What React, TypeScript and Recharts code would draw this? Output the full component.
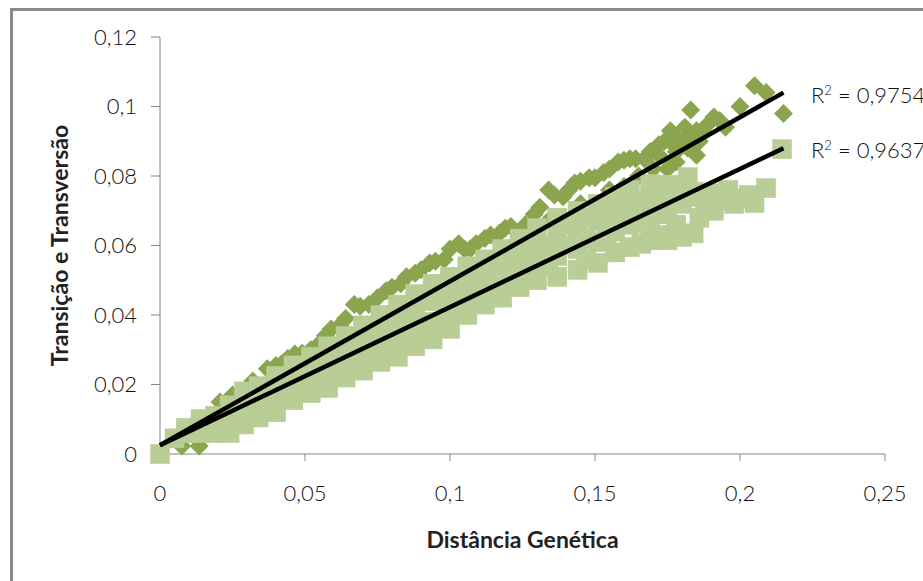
import { Label, Scatter, ScatterChart, XAxis, YAxis } from "recharts";

const xTicks = [0, 0.05, 0.1, 0.15, 0.2, 0.25];
const yTicks = [0, 0.02, 0.04, 0.06, 0.08, 0.1, 0.12];

// [distance, transition/transversion]
const darkPoints = [
  [0.0075, 0.0023], [0.0135, 0.0023], [0.012, 0.008], [0.0207, 0.015], [0.025, 0.017], [0.028, 0.018],
  [0.032, 0.021], [0.037, 0.0245], [0.04, 0.0255], [0.042, 0.026], [0.044, 0.0275], [0.0465, 0.0288],
  [0.049, 0.029], [0.052, 0.03], [0.054, 0.031], [0.057, 0.034], [0.059, 0.036], [0.062, 0.037],
  [0.064, 0.039], [0.067, 0.043], [0.069, 0.0425], [0.072, 0.043], [0.075, 0.045], [0.078, 0.047],
  [0.08, 0.048], [0.083, 0.049], [0.085, 0.051], [0.088, 0.052], [0.09, 0.053], [0.093, 0.055],
  [0.095, 0.0555], [0.098, 0.056], [0.1, 0.059], [0.103, 0.0605], [0.105, 0.059], [0.107, 0.059],
  [0.109, 0.0605], [0.112, 0.062], [0.114, 0.063], [0.117, 0.0635], [0.119, 0.065], [0.121, 0.0655],
  [0.124, 0.064], [0.126, 0.066], [0.129, 0.069], [0.131, 0.071], [0.134, 0.076], [0.136, 0.0745],
  [0.139, 0.074], [0.141, 0.076], [0.143, 0.078], [0.145, 0.0785], [0.148, 0.0795], [0.15, 0.0795],
  [0.153, 0.081], [0.155, 0.082], [0.158, 0.084], [0.16, 0.0845], [0.162, 0.085], [0.164, 0.085],
  [0.167, 0.085], [0.169, 0.087], [0.172, 0.089], [0.174, 0.09], [0.176, 0.093], [0.178, 0.091],
  [0.18, 0.09], [0.181, 0.094], [0.183, 0.099], [0.185, 0.093], [0.185, 0.086], [0.178, 0.084],
  [0.182, 0.088], [0.178, 0.087], [0.187, 0.093], [0.191, 0.097], [0.195, 0.094], [0.2, 0.1],
  [0.205, 0.106], [0.209, 0.104], [0.215, 0.098], [0.175, 0.082], [0.17, 0.082], [0.165, 0.08],
  [0.16, 0.077], [0.155, 0.076], [0.15, 0.072], [0.145, 0.072], [0.14, 0.067], [0.135, 0.068],
  [0.13, 0.062], [0.12, 0.058], [0.11, 0.054], [0.1, 0.05], [0.09, 0.046], [0.08, 0.041],
  [0.186, 0.09], [0.183, 0.092], [0.189, 0.095], [0.177, 0.089], [0.172, 0.086], [0.193, 0.096],
];

const lightPoints = [
  [0, 0], [0.005, 0.0045], [0.009, 0.006], [0.009, 0.0075],
  [0.014, 0.006], [0.014, 0.0085], [0.014, 0.01], [0.019, 0.006], [0.019, 0.0085],
  [0.019, 0.011], [0.024, 0.006], [0.024, 0.011], [0.024, 0.014], [0.029, 0.0085],
  [0.029, 0.012], [0.029, 0.016], [0.029, 0.018], [0.034, 0.0105], [0.034, 0.014],
  [0.034, 0.017], [0.034, 0.0195], [0.04, 0.012], [0.04, 0.016], [0.04, 0.02],
  [0.04, 0.0225], [0.046, 0.0155], [0.046, 0.019], [0.046, 0.022], [0.046, 0.0255],
  [0.052, 0.0175], [0.052, 0.021], [0.052, 0.025], [0.052, 0.028], [0.058, 0.019],
  [0.058, 0.023], [0.058, 0.027], [0.058, 0.031], [0.064, 0.022], [0.064, 0.026],
  [0.064, 0.03], [0.064, 0.034], [0.07, 0.024], [0.07, 0.028], [0.07, 0.033],
  [0.07, 0.037], [0.076, 0.0265], [0.076, 0.031], [0.076, 0.036], [0.076, 0.04],
  [0.082, 0.028], [0.082, 0.033], [0.082, 0.038], [0.082, 0.043], [0.088, 0.031],
  [0.088, 0.036], [0.088, 0.041], [0.088, 0.046], [0.094, 0.033], [0.094, 0.038],
  [0.094, 0.044], [0.094, 0.049], [0.1, 0.036], [0.1, 0.041], [0.1, 0.046],
  [0.1, 0.051], [0.106, 0.04], [0.106, 0.045], [0.106, 0.05], [0.106, 0.054],
  [0.112, 0.043], [0.112, 0.048], [0.112, 0.052], [0.112, 0.056], [0.118, 0.045],
  [0.118, 0.05], [0.118, 0.055], [0.118, 0.059], [0.124, 0.048], [0.124, 0.053],
  [0.124, 0.058], [0.124, 0.062], [0.13, 0.05], [0.13, 0.055], [0.13, 0.06],
  [0.13, 0.065], [0.137, 0.051], [0.137, 0.057], [0.137, 0.063], [0.137, 0.068],
  [0.144, 0.053], [0.144, 0.059], [0.144, 0.065], [0.144, 0.07], [0.151, 0.055],
  [0.151, 0.061], [0.151, 0.067], [0.151, 0.072], [0.157, 0.058], [0.157, 0.064],
  [0.157, 0.07], [0.157, 0.074], [0.162, 0.0595], [0.162, 0.066], [0.162, 0.071],
  [0.162, 0.076], [0.169, 0.0615], [0.169, 0.068], [0.169, 0.0777], [0.175, 0.0615],
  [0.175, 0.069], [0.172, 0.0775], [0.182, 0.0797], [0.18, 0.072], [0.184, 0.0635],
  [0.186, 0.074], [0.191, 0.07], [0.196, 0.076], [0.2, 0.0735], [0.205, 0.0722],
  [0.209, 0.0765], [0.2145, 0.0877], [0.165, 0.073], [0.17, 0.073], [0.175, 0.0735],
  [0.178, 0.0775], [0.184, 0.0755], [0.188, 0.0705], [0.19, 0.075], [0.193, 0.073],
  [0.198, 0.072], [0.203, 0.0745], [0.178, 0.066], [0.186, 0.068], [0.172, 0.063],
  [0.166, 0.0605], [0.18, 0.0625], [0.134, 0.06], [0.14, 0.06], [0.14, 0.066],
  [0.147, 0.062], [0.147, 0.068], [0.154, 0.063], [0.154, 0.069], [0.16, 0.068],
  [0.166, 0.067], [0.147, 0.056], [0.134, 0.054], [0.127, 0.056], [0.121, 0.052],
  [0.115, 0.05], [0.109, 0.047], [0.103, 0.044],
];

const trendDark = [
  [0, 0.0025],
  [0.215, 0.104],
];
const trendLight = [
  [0, 0.0025],
  [0.215, 0.088],
];

const toRows = (pts: number[][]) => pts.map(([x, y]) => ({ x, y }));
const comma = (v: number) => String(v).replace(".", ",");

const fontFamily = "Lato, 'Open Sans', sans-serif";
const axisColor = "#868686";
const tickStyle = { fontSize: 22, fontFamily, fill: "#111", fontWeight: 300 };
const titleStyle = { fontSize: 23, fontWeight: 700, fontFamily, fill: "#222" };

function Diamond({ cx, cy }: any) {
  const r = 9.5;
  return (
    <polygon
      points={`${cx},${cy - r} ${cx + r},${cy} ${cx},${cy + r} ${cx - r},${cy}`}
      fill="#8ba54f"
    />
  );
}

function Square({ cx, cy }: any) {
  const r = 9.5;
  return (
    <rect
      x={cx - r}
      y={cy - r}
      width={r * 2}
      height={r * 2}
      fill="#b9ce97"
      stroke="#b4ca91"
      strokeWidth={0.5}
    />
  );
}

const NoDot = () => <g />;

const rSquaredStyle = {
  position: "absolute" as const,
  left: 811,
  fontSize: 22,
  fontFamily,
  fontWeight: 300,
  color: "#111",
  whiteSpace: "nowrap" as const,
};

export default function App() {
  return (
    <div
      style={{
        position: "absolute",
        left: 0,
        top: 0,
        width: 923,
        height: 581,
        overflow: "hidden",
        background: "#fff",
      }}
    >
      <div
        style={{
          position: "absolute",
          left: 10,
          top: 8,
          width: 920,
          height: 580,
          borderLeft: "3px solid #8a8a8a",
          borderTop: "3px solid #8a8a8a",
        }}
      />
      <div style={{ position: "absolute", left: 0, top: 0 }}>
        <ScatterChart
          width={923}
          height={581}
          margin={{ top: 37, right: 38, left: 0, bottom: 0 }}
          style={{ overflow: "visible" }}
        >
          <XAxis
            type="number"
            dataKey="x"
            domain={[0, 0.25]}
            ticks={xTicks}
            tickFormatter={comma}
            tick={tickStyle}
            tickSize={7}
            tickMargin={24}
            stroke={axisColor}
            height={127}
            interval={0}
          >
            <Label
              value="Distância Genética"
              position="insideTop"
              offset={78}
              style={titleStyle}
            />
          </XAxis>
          <YAxis
            type="number"
            dataKey="y"
            domain={[0, 0.12]}
            ticks={yTicks}
            tickFormatter={comma}
            tick={tickStyle}
            tickSize={9}
            tickMargin={14}
            stroke={axisColor}
            width={160}
            interval={0}
          >
            <Label
              value="Transição e Transversão"
              angle={-90}
              position="insideLeft"
              offset={60}
              style={{ ...titleStyle, textAnchor: "middle" }}
            />
          </YAxis>
          <Scatter data={toRows(darkPoints)} shape={Diamond} isAnimationActive={false} />
          <Scatter data={toRows(lightPoints)} shape={Square} isAnimationActive={false} />
          <Scatter
            data={toRows(trendDark)}
            line={{ stroke: "#000", strokeWidth: 4.5 }}
            shape={NoDot}
            isAnimationActive={false}
          />
          <Scatter
            data={toRows(trendLight)}
            line={{ stroke: "#000", strokeWidth: 4.5 }}
            shape={NoDot}
            isAnimationActive={false}
          />
        </ScatterChart>
      </div>
      <div style={{ ...rSquaredStyle, top: 81 }}>
        R<sup style={{ fontSize: 13, lineHeight: 0 }}>2</sup> = {comma(0.9754)}
      </div>
      <div style={{ ...rSquaredStyle, top: 136 }}>
        R<sup style={{ fontSize: 13, lineHeight: 0 }}>2</sup> = {comma(0.9637)}
      </div>
    </div>
  );
}
